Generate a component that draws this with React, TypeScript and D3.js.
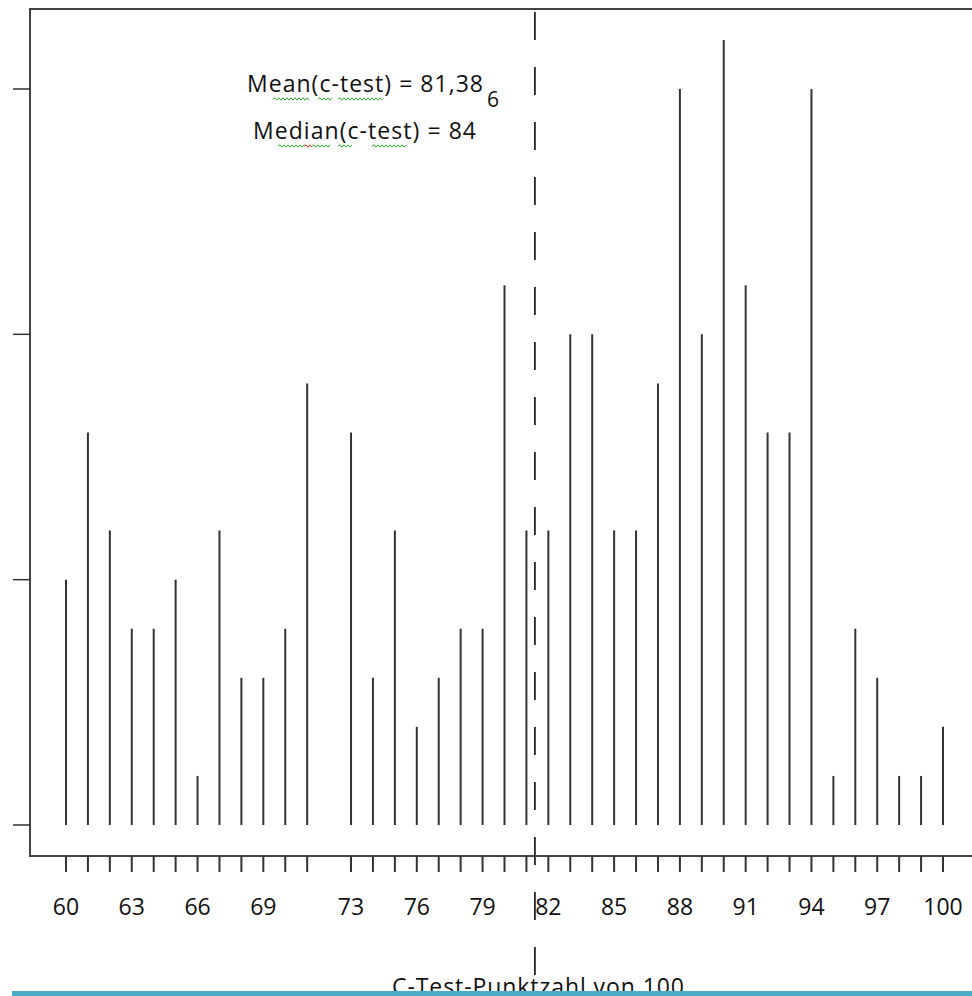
import React from "react";
import * as d3 from "d3";

const scores = [60,61,62,63,64,65,66,67,68,69,70,71,73,74,75,76,77,78,79,80,81,82,83,84,85,86,87,88,89,90,91,92,93,94,95,96,97,98,99,100];
const counts = [5,8,6,4,4,5,1,6,3,3,4,9,8,3,6,2,3,4,4,11,6,6,10,10,6,6,9,15,10,16,11,8,8,15,1,4,3,1,1,2];
const yTicks = [0,5,10,15];
const meanValue = 81.386;
const meanLabel = "Mean(c-test) = 81,38";
const meanExtra = "6";
const medianLabel = "Median(c-test) = 84";
const xTitle = "C-Test-Punktzahl von 100";

function squiggle(x0: number, x1: number, y: number) {
  let d = `M${x0},${y}`;
  let up = true;
  for (let x = x0 + 2; x <= x1; x += 2) {
    d += ` L${x},${y + (up ? -1.2 : 1.2)}`;
    up = !up;
  }
  return d;
}

export default function App() {
  const W = 972, H = 996;
  const x = d3.scaleLinear().domain([60, 100]).range([66, 943]);
  const y = d3.scaleLinear().domain([0, 15]).range([825, 89]);
  const frame = { left: 30, top: 9, bottom: 856 };
  const font = "'Open Sans', sans-serif";
  const stroke = "#333";
  const labelIdx = scores.map((_, i) => i).filter(i => i % 3 === 0);
  const mx = x(meanValue);
  return (
    <svg width={W} height={H} style={{ position: "absolute", left: 0, top: 0, background: "#fff" }}>
      <rect x={0} y={0} width={W} height={H} fill="#fff" />
      {/* frame */}
      <path d={`M${W + 5},${frame.top} H${frame.left} V${frame.bottom} H${W + 5}`} fill="none" stroke="#444" strokeWidth={2} />
      {/* y ticks */}
      {yTicks.map(t => (
        <line key={t} x1={13} x2={frame.left} y1={y(t)} y2={y(t)} stroke={stroke} strokeWidth={1.5} />
      ))}
      {/* bars */}
      {scores.map((s, i) => (
        <line key={s} x1={x(s)} x2={x(s)} y1={y(0)} y2={y(counts[i])} stroke={stroke} strokeWidth={2} />
      ))}
      {/* x ticks */}
      {scores.map(s => (
        <line key={"t" + s} x1={x(s)} x2={x(s)} y1={frame.bottom} y2={frame.bottom + 16} stroke={stroke} strokeWidth={2} />
      ))}
      {labelIdx.map(i => (
        <text key={"l" + i} x={x(scores[i])} y={915} textAnchor="middle" fontFamily={font} fontSize={23} fill="#111">{scores[i]}</text>
      ))}
      {/* mean dashed line */}
      <line x1={mx} x2={mx} y1={12} y2={978} stroke="#222" strokeWidth={1.8} strokeDasharray="28 27" />
      {/* annotations */}
      <text x={247} y={92} textLength={236} lengthAdjust="spacing" fontFamily={font} fontSize={23} fill="#111">{meanLabel}</text>
      <text x={493} y={107} textAnchor="middle" fontFamily={font} fontSize={21} fill="#111">{meanExtra}</text>
      <text x={253} y={139} textLength={223} lengthAdjust="spacing" fontFamily={font} fontSize={23} fill="#111">{medianLabel}</text>
      <g fill="none" strokeWidth={1}>
        <path d={squiggle(273, 310, 99)} stroke="#3a3" />
        <path d={squiggle(318, 332, 99)} stroke="#3a3" />
        <path d={squiggle(338, 382, 99)} stroke="#3a3" />
        <path d={squiggle(278, 304, 146)} stroke="#3a3" />
        <path d={squiggle(304, 312, 146)} stroke="#d22" />
        <path d={squiggle(312, 330, 146)} stroke="#3a3" />
        <path d={squiggle(338, 352, 146)} stroke="#3a3" />
        <path d={squiggle(372, 407, 146)} stroke="#3a3" />
      </g>
      {/* axis title, cut at bottom */}
      <text x={392} y={995} textLength={292} lengthAdjust="spacing" fontFamily={font} fontSize={23} fill="#111">{xTitle}</text>
      <rect x={12} y={991} width={W} height={6} fill="#4BACC6" />
    </svg>
  );
}
